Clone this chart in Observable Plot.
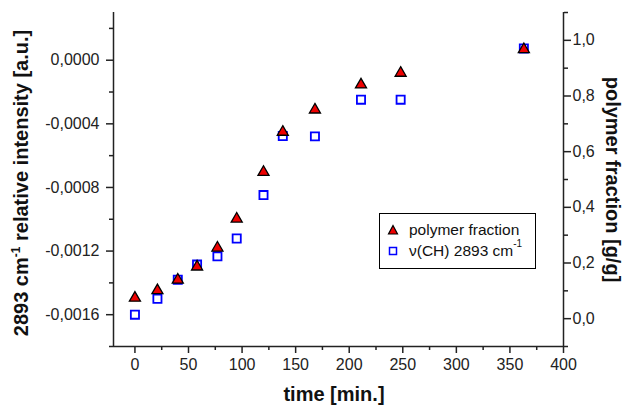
<!DOCTYPE html>
<html><head><meta charset="utf-8">
<script src="https://cdn.jsdelivr.net/npm/d3@7"></script>
<script src="https://cdn.jsdelivr.net/npm/@observablehq/plot@0.6"></script>
<style>
body{margin:0;background:#fff;}
#wrap{position:relative;width:624px;height:406px;font-family:"Liberation Sans",Arial,sans-serif;}
#legend{position:absolute;left:379px;top:213px;width:155px;height:54px;border:1px solid #000;background:#fff;font-size:15.5px;color:#111;}
.row{position:absolute;left:0;height:20px;line-height:20px;white-space:nowrap}
.row svg{position:absolute;left:6px;top:3px}
.row span{position:absolute;left:29px;top:0}
sup{font-size:10px;vertical-align:top;line-height:10px;position:relative;top:-2px}
</style></head><body><div id="wrap"></div>
<script>
// ---- data ----
const time = [0, 21, 40, 58, 77, 95, 120, 138, 168, 211, 248, 363];
const polymerFraction = [0.069, 0.096, 0.134, 0.181, 0.249, 0.353, 0.521, 0.665, 0.745, 0.835, 0.877, 0.962];
const intensity = [-0.00160, -0.00150, -0.00138, -0.001285, -0.001233, -0.001121, -0.000848, -0.000477, -0.000479, -0.000248, -0.000248, 0.000074];

const xTicks = [0, 50, 100, 150, 200, 250, 300, 350, 400];
const xMinor = [25, 75, 125, 175, 225, 275, 325, 375];
const leftTicks = [0.0000, -0.0004, -0.0008, -0.0012, -0.0016];
const leftLabels = ["0,0000", "-0,0004", "-0,0008", "-0,0012", "-0,0016"];
const leftMinor = [0.0002, -0.0002, -0.0006, -0.0010, -0.0014, -0.0018];
const rightTicks = [0.0, 0.2, 0.4, 0.6, 0.8, 1.0];
const rightLabels = ["0,0", "0,2", "0,4", "0,6", "0,8", "1,0"];
const rightMinor = [-0.1, 0.1, 0.3, 0.5, 0.7, 0.9, 1.1];

const xDomain = [-20, 400];
const leftDomain = [-0.0018, 0.0003];
const rightDomain = [-0.1, 1.1];

const rows = time.map((t, i) => ({t, frac: polymerFraction[i], inten: intensity[i]}));
const y2 = d3.scaleLinear(rightDomain, leftDomain);

const ink = "#222";
const plot = Plot.plot({
  width: 624, height: 406,
  marginLeft: 113, marginRight: 61, marginTop: 12, marginBottom: 60,
  x: {domain: xDomain},
  y: {domain: leftDomain},
  style: {fontFamily: "'Liberation Sans', Arial, sans-serif", fontSize: "16px", color: ink, background: "#fff"},
  marks: [
    Plot.axisX(xTicks, {tickSize: 7, tickPadding: 5, strokeWidth: 1.5, fontSize: 16, tickFormat: d => String(d), label: null}),
    Plot.axisX(xMinor, {tickSize: 4, strokeWidth: 1.5, tickFormat: () => "", label: null}),
    Plot.axisY(leftTicks, {anchor: "left", tickSize: 7, tickPadding: 7, strokeWidth: 1.5, fontSize: 16, tickFormat: d => leftLabels[leftTicks.indexOf(d)], label: null}),
    Plot.axisY(leftMinor, {anchor: "left", tickSize: 4, strokeWidth: 1.5, tickFormat: () => "", label: null}),
    Plot.axisY(rightTicks, {anchor: "right", y: y2, tickSize: 7, tickPadding: 2, strokeWidth: 1.5, fontSize: 16, tickFormat: d => rightLabels[rightTicks.indexOf(d)], label: null}),
    Plot.axisY(rightMinor, {anchor: "right", y: y2, tickSize: 4, strokeWidth: 1.5, tickFormat: () => "", label: null}),
    Plot.ruleX([xDomain[0], xDomain[1]], {stroke: ink, strokeWidth: 1.5}),
    Plot.ruleY([leftDomain[0]], {stroke: ink, strokeWidth: 1.5}),
    Plot.dot(rows, {x: "t", y: "inten", symbol: "square", r: 4.6, stroke: "#0000ff", strokeWidth: 1.8, fill: "#fff"}),
    Plot.dot(rows, {x: "t", y: d => y2(d.frac), symbol: "triangle", r: 4.1, dy: -1.5, stroke: "#000", strokeWidth: 1.3, fill: "#ee0000"})
  ]
});
document.getElementById("wrap").appendChild(plot);

// axis titles
const svg = d3.select(plot);
const tf = "'Liberation Sans', Arial, sans-serif";
const lt = svg.append("text").attr("transform", "translate(28,183) rotate(-90)")
  .attr("text-anchor", "middle").attr("font-family", tf).attr("font-size", 20).attr("font-weight", "bold").attr("fill", "#111");
lt.append("tspan").text("2893 cm");
lt.append("tspan").attr("dy", -8).attr("font-size", 12).text("-1");
lt.append("tspan").attr("dy", 8).text(" relative intensity [a.u.]");

svg.append("text").attr("transform", "translate(606,179.5) rotate(90)")
  .attr("text-anchor", "middle").attr("font-family", tf).attr("font-size", 20).attr("font-weight", "bold").attr("fill", "#111")
  .text("polymer fraction [g/g]");

svg.append("text").attr("x", 334).attr("y", 401)
  .attr("text-anchor", "middle").attr("font-family", tf).attr("font-size", 20).attr("font-weight", "bold").attr("fill", "#111")
  .text("time [min.]");

// legend
const leg = document.createElement("div");
leg.id = "legend";
leg.innerHTML =
  '<div class="row" style="top:6px"><svg width="14" height="14"><path d="M7,2.5 L11.5,11 L2.5,11 Z" fill="#ee0000" stroke="#000" stroke-width="1.2"/></svg><span>polymer fraction</span></div>' +
  '<div class="row" style="top:26.5px"><svg width="14" height="14"><rect x="3.5" y="3.5" width="7" height="7" fill="#fff" stroke="#0000ff" stroke-width="1.5"/></svg><span>\u03bd(CH) 2893 cm<sup>-1</sup></span></div>';
document.getElementById("wrap").appendChild(leg);
</script></body></html>
